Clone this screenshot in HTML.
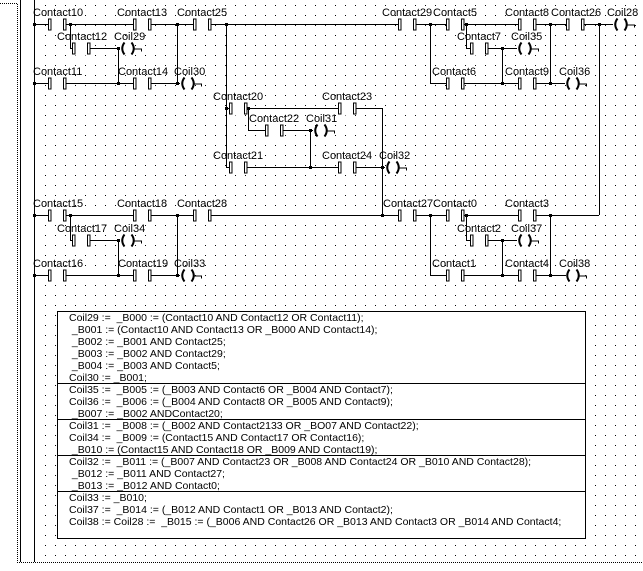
<!DOCTYPE html>
<html><head><meta charset="utf-8"><style>
html,body{margin:0;padding:0;background:#fff;}
body{width:643px;height:571px;position:relative;overflow:hidden;font-family:"Liberation Sans",Arial,sans-serif;}
svg{position:absolute;left:0;top:0;}
#box{position:absolute;left:57px;top:311px;width:529px;height:228px;border:1px solid #000;background:#fff;box-sizing:border-box;}
#box .l{position:absolute;left:11px;font-size:10.5px;line-height:12px;white-space:pre;color:#000;}
#box .s{position:absolute;left:0;width:100%;height:1px;background:#000;}
</style></head><body>
<svg width="643" height="571" viewBox="0 0 643 571">
<defs>
<pattern id="dots" x="0" y="0" width="10" height="10" patternUnits="userSpaceOnUse"><rect x="5" y="5" width="1" height="1" fill="#000"/></pattern>
<g id="ct"><rect x="3" y="-7" width="12" height="14" fill="#fff"/><rect x="0.5" y="-5.5" width="2.5" height="11" fill="#fff" stroke="#000"/><rect x="15.5" y="-5.5" width="2.5" height="11" fill="#fff" stroke="#000"/></g>
<g id="cl"><rect x="3" y="-7" width="11" height="14" fill="#fff"/><path d="M4.5,-6 Q0,0 4.5,6" fill="none" stroke="#000" stroke-width="2"/><path d="M11.5,-6 Q16,0 11.5,6" fill="none" stroke="#000" stroke-width="2"/><path d="M14,0.5 H21.5 V3" fill="none" stroke="#000"/></g>
</defs>
<rect x="40" y="0" width="603" height="558" fill="url(#dots)"/>
<g stroke="#000" stroke-width="1" fill="none">
<path d="M0,3.5 H17.5 V562.5 H643" stroke-dasharray="1,1"/>
<path d="M20.5,0 V562"/>
<path d="M34.5,0 V562"/>
<!-- horizontals -->
<path d="M34,24.5 H613"/>
<path d="M70,48.5 H120 M466,48.5 H517"/>
<path d="M34,83.5 H180 M430,83.5 H565"/>
<path d="M226,108.5 H382"/>
<path d="M248,130.5 H313"/>
<path d="M226,167.5 H385"/>
<path d="M34,215.5 H599"/>
<path d="M70,240.5 H120 M466,240.5 H517"/>
<path d="M34,275.5 H180 M430,275.5 H565"/>
<!-- verticals -->
<path d="M70.5,24 V48 M118.5,48 V83 M177.5,24 V83 M226.5,24 V167 M430.5,24 V83 M466.5,24 V48 M502.5,48 V83 M550.5,24 V83 M599.5,24 V215"/>
<path d="M248.5,108 V130 M310.5,130 V167 M382.5,108 V215"/>
<path d="M70.5,215 V240 M118.5,240 V275 M177.5,215 V275 M430.5,215 V275 M466.5,215 V240 M502.5,240 V275 M550.5,215 V275"/>
</g>
<g fill="#000">
<rect x="33" y="23" width="3" height="3"/><rect x="69" y="23" width="3" height="3"/><rect x="176" y="23" width="3" height="3"/><rect x="225" y="23" width="3" height="3"/><rect x="429" y="23" width="3" height="3"/><rect x="465" y="23" width="3" height="3"/><rect x="549" y="23" width="3" height="3"/><rect x="598" y="23" width="3" height="3"/>
<rect x="117" y="47" width="3" height="3"/><rect x="501" y="47" width="3" height="3"/>
<rect x="33" y="82" width="3" height="3"/><rect x="117" y="82" width="3" height="3"/><rect x="176" y="82" width="3" height="3"/><rect x="501" y="82" width="3" height="3"/><rect x="549" y="82" width="3" height="3"/>
<rect x="225" y="107" width="3" height="3"/><rect x="247" y="107" width="3" height="3"/><rect x="309" y="129" width="3" height="3"/><rect x="309" y="166" width="3" height="3"/><rect x="381" y="166" width="3" height="3"/>
<rect x="33" y="214" width="3" height="3"/><rect x="69" y="214" width="3" height="3"/><rect x="176" y="214" width="3" height="3"/><rect x="381" y="214" width="3" height="3"/><rect x="429" y="214" width="3" height="3"/><rect x="465" y="214" width="3" height="3"/><rect x="549" y="214" width="3" height="3"/>
<rect x="117" y="239" width="3" height="3"/><rect x="501" y="239" width="3" height="3"/>
<rect x="33" y="274" width="3" height="3"/><rect x="117" y="274" width="3" height="3"/><rect x="176" y="274" width="3" height="3"/><rect x="501" y="274" width="3" height="3"/><rect x="549" y="274" width="3" height="3"/>
</g>
<!-- contacts -->
<use href="#ct" x="48" y="24.5"/><use href="#ct" x="133" y="24.5"/><use href="#ct" x="193" y="24.5"/><use href="#ct" x="398" y="24.5"/><use href="#ct" x="446" y="24.5"/><use href="#ct" x="518" y="24.5"/><use href="#ct" x="566" y="24.5"/>
<use href="#ct" x="72" y="48.5"/><use href="#ct" x="470" y="48.5"/>
<use href="#ct" x="48" y="83.5"/><use href="#ct" x="133" y="83.5"/><use href="#ct" x="446" y="83.5"/><use href="#ct" x="518" y="83.5"/>
<use href="#ct" x="229" y="108.5"/><use href="#ct" x="338" y="108.5"/>
<use href="#ct" x="265" y="130.5"/>
<use href="#ct" x="229" y="167.5"/><use href="#ct" x="338" y="167.5"/>
<use href="#ct" x="48" y="215.5"/><use href="#ct" x="133" y="215.5"/><use href="#ct" x="193" y="215.5"/><use href="#ct" x="398" y="215.5"/><use href="#ct" x="446" y="215.5"/><use href="#ct" x="518" y="215.5"/>
<use href="#ct" x="72" y="240.5"/><use href="#ct" x="470" y="240.5"/>
<use href="#ct" x="48" y="275.5"/><use href="#ct" x="133" y="275.5"/><use href="#ct" x="446" y="275.5"/><use href="#ct" x="518" y="275.5"/>
<!-- coils -->
<use href="#cl" x="613" y="24.5"/><use href="#cl" x="120" y="48.5"/><use href="#cl" x="517" y="48.5"/><use href="#cl" x="180" y="83.5"/><use href="#cl" x="565" y="83.5"/><use href="#cl" x="313" y="130.5"/><use href="#cl" x="385" y="167.5"/>
<use href="#cl" x="120" y="240.5"/><use href="#cl" x="517" y="240.5"/><use href="#cl" x="180" y="275.5"/><use href="#cl" x="565" y="275.5"/>
<!-- labels -->
<g font-family="Liberation Sans, Arial, sans-serif" font-size="11" fill="#000">
<text x="33" y="16">Contact10</text><text x="117" y="16">Contact13</text><text x="177" y="16">Contact25</text><text x="382" y="16">Contact29</text><text x="433" y="16">Contact5</text><text x="505" y="16">Contact8</text><text x="551" y="16">Contact26</text><text x="607" y="16">Coil28</text>
<text x="57" y="40">Contact12</text><text x="114" y="40">Coil29</text><text x="457" y="40">Contact7</text><text x="511" y="40">Coil35</text>
<text x="33" y="75">Contact11</text><text x="118" y="75">Contact14</text><text x="174" y="75">Coil30</text><text x="432" y="75">Contact6</text><text x="505" y="75">Contact9</text><text x="559" y="75">Coil36</text>
<text x="213" y="100">Contact20</text><text x="322" y="100">Contact23</text>
<text x="249" y="122">Contact22</text><text x="306" y="122">Coil31</text>
<text x="213" y="159">Contact21</text><text x="322" y="159">Contact24</text><text x="379" y="159">Coil32</text>
<text x="33" y="207">Contact15</text><text x="117" y="207">Contact18</text><text x="177" y="207">Contact28</text><text x="383" y="207">Contact27</text><text x="433" y="207">Contact0</text><text x="505" y="207">Contact3</text>
<text x="57" y="232">Contact17</text><text x="114" y="232">Coil34</text><text x="457" y="232">Contact2</text><text x="511" y="232">Coil37</text>
<text x="33" y="267">Contact16</text><text x="118" y="267">Contact19</text><text x="174" y="267">Coil33</text><text x="432" y="267">Contact1</text><text x="505" y="267">Contact4</text><text x="559" y="267">Coil38</text>
</g>
</svg>
<div id="box">
<div class="l" style="top:0px">Coil29 :=  _B000 := (Contact10 AND Contact12 OR Contact11);</div>
<div class="l" style="top:12px"> _B001 := (Contact10 AND Contact13 OR _B000 AND Contact14);</div>
<div class="l" style="top:24px"> _B002 := _B001 AND Contact25;</div>
<div class="l" style="top:36px"> _B003 := _B002 AND Contact29;</div>
<div class="l" style="top:48px"> _B004 := _B003 AND Contact5;</div>
<div class="l" style="top:60px">Coil30 := _B001;</div>
<div class="s" style="top:71px"></div>
<div class="l" style="top:72px">Coil35 :=  _B005 := (_B003 AND Contact6 OR _B004 AND Contact7);</div>
<div class="l" style="top:84px">Coil36 :=  _B006 := (_B004 AND Contact8 OR _B005 AND Contact9);</div>
<div class="l" style="top:96px"> _B007 := _B002 ANDContact20;</div>
<div class="s" style="top:107px"></div>
<div class="l" style="top:108px">Coil31 :=  _B008 := (_B002 AND Contact2133 OR _BO07 AND Contact22);</div>
<div class="l" style="top:120px">Coil34 :=  _B009 := (Contact15 AND Contact17 OR Contact16);</div>
<div class="l" style="top:132px"> _B010 := (Contact15 AND Contact18 OR _B009 AND Contact19);</div>
<div class="s" style="top:143px"></div>
<div class="l" style="top:144px">Coil32 :=  _B011 := (_B007 AND Contact23 OR _B008 AND Contact24 OR _B010 AND Contact28);</div>
<div class="l" style="top:156px"> _B012 := _B011 AND Contact27;</div>
<div class="l" style="top:168px"> _B013 := _B012 AND Contact0;</div>
<div class="s" style="top:179px"></div>
<div class="l" style="top:180px">Coil33 := _B010;</div>
<div class="l" style="top:192px">Coil37 :=  _B014 := (_B012 AND Contact1 OR _B013 AND Contact2);</div>
<div class="l" style="top:204px">Coil38 := Coil28 :=  _B015 := (_B006 AND Contact26 OR _B013 AND Contact3 OR _B014 AND Contact4;</div>
</div>
</body></html>
